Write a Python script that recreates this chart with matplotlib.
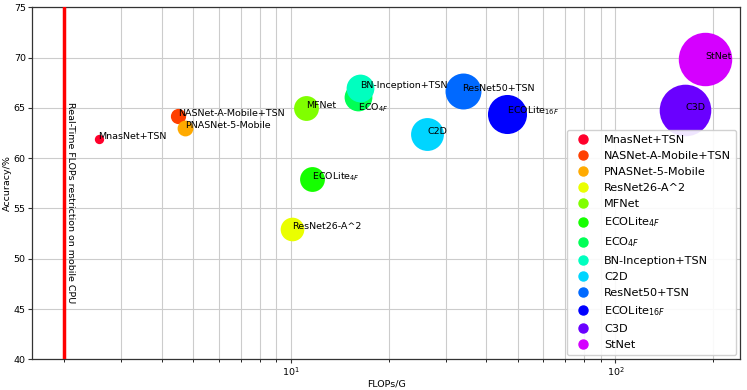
import matplotlib
matplotlib.use("Agg")
import matplotlib.pyplot as plt
from matplotlib.lines import Line2D

names = ["MnasNet+TSN", "NASNet-A-Mobile+TSN", "PNASNet-5-Mobile", "ResNet26-A^2",
         "MFNet", r"ECOLite$_{4F}$", r"ECO$_{4F}$", "BN-Inception+TSN", "C2D",
         "ResNet50+TSN", r"ECOLite$_{16F}$", "C3D", "StNet"]
flops = [2.55, 4.49, 4.72, 10.07, 11.1, 11.6, 16.1, 16.3, 26.3, 33.8, 46.3, 164, 189]
accuracy = [61.9, 64.2, 63.0, 53.0, 65.0, 57.9, 66.1, 67.0, 62.4, 66.7, 64.4, 64.8, 69.9]
sizes = [45, 120, 130, 290, 320, 320, 400, 400, 560, 670, 790, 1380, 1480]
colors = ["#ff002b", "#ff4000", "#ffaa00", "#eaff00", "#80ff00", "#15ff00", "#00ff55",
          "#00ffbf", "#00d5ff", "#0069ff", "#0000ff", "#6a00ff", "#d500ff"]
label_offsets = {r"ECO$_{4F}$": (0, -10)}

fs = 6.8
fig = plt.figure(figsize=(7.47, 3.90), dpi=100)
ax = fig.add_axes([0.0428, 0.0787, 0.9482, 0.9026])
ax.set_xscale("log")
ax.set_xlim(1.59, 242.7)
ax.set_ylim(40, 75)
ax.grid(True, which="both", color="#cccccc", linewidth=0.8)
ax.set_axisbelow(True)
for s in ax.spines.values():
    s.set_color("#333333")
    s.set_linewidth(0.9)

ax.axvline(2, color="red", linewidth=2.5, zorder=3)
ax.annotate("Real-Time FLOPs restriction on mobile CPU", (2, 65.6), xytext=(1.5, 0),
            textcoords="offset points", rotation=270, ha="left", va="top",
            fontsize=fs, zorder=4)

handles = []
for n, x, y, sz, c in zip(names, flops, accuracy, sizes, colors):
    ax.scatter([x], [y], s=sz, color=c, zorder=5, linewidths=0)
    off = label_offsets.get(n, (0, 0))
    ax.annotate(n, (x, y), xytext=off, textcoords="offset points", fontsize=fs, zorder=6)
    handles.append(Line2D([], [], marker="o", linestyle="none", markersize=6.5,
                          markerfacecolor=c, markeredgecolor=c, label=n))

ax.legend(handles=handles, loc="lower right", fontsize=8.1, framealpha=0.9,
          borderaxespad=0.4, handletextpad=0.9, labelspacing=0.55)
ax.set_xlabel("FLOPs/G", fontsize=fs, labelpad=1)
ax.set_ylabel("Accuracy/%", fontsize=fs, labelpad=1)
ax.tick_params(labelsize=fs, length=3, width=0.8, pad=1.5, colors="#333333", labelcolor="black")
ax.tick_params(which="minor", length=2)
fig.savefig("out.png", dpi=100)
